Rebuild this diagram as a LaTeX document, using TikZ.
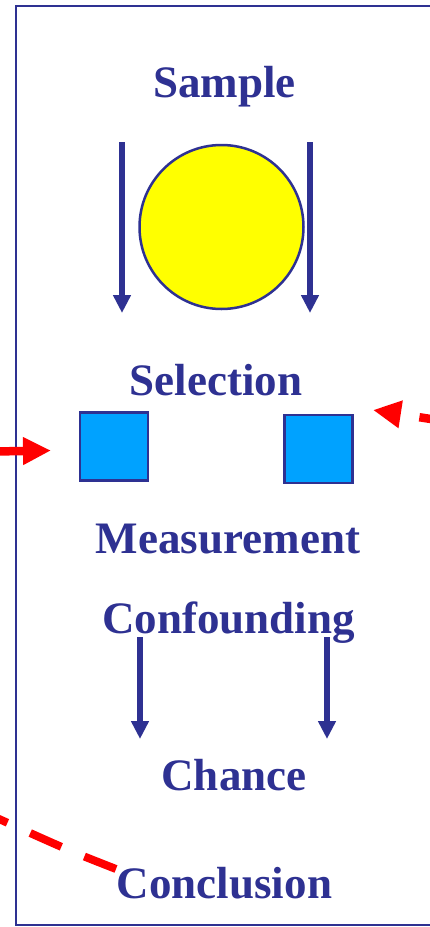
\documentclass[tikz,border=0pt]{standalone}
\usepackage{fontspec}
\setmainfont{Liberation Serif}
\usetikzlibrary{arrows.meta}
\definecolor{dblue}{RGB}{46,49,146}
\definecolor{sqblue}{RGB}{0,162,255}
\definecolor{cyellow}{RGB}{255,255,0}
\tikzset{
  lbl/.style={anchor=base, inner sep=0pt, text=dblue, font=\fontsize{45}{50}\selectfont\bfseries},
  barrow/.style={draw=dblue, line width=5.5pt, -{Triangle[length=18pt,width=17pt]}},
  sqbox/.style={draw=dblue, fill=sqblue, line width=2.5pt, minimum size=68pt, inner sep=0pt},
  rarrow/.style={draw=red, line width=8.5pt, -{Triangle[length=28pt,width=26pt]}},
  rdash/.style={draw=red, line width=8pt, dash pattern=on 34pt off 25pt}
}
\begin{document}
\begin{tikzpicture}[x=1pt,y=-1pt]
\useasboundingbox (0,0) rectangle (430,927);
\clip (0,0) rectangle (430,927);
\fill[white] (0,0) rectangle (430,927);
% frame
\draw[dblue, line width=2.2pt] (16,6) rectangle (450,925);
% texts
\node[lbl] (sample) at (224.5,97) {Sample};
\node[lbl] (selection) at (216,395) {Selection};
\node[lbl] (measurement) at (228,553) {Measurement};
\node[lbl] (confounding) at (228.5,633) {Confounding};
\node[lbl] (chance) at (234,790) {Chance};
\node[lbl] (conclusion) at (224.5,898) {Conclusion};
% circle
\node[circle, draw=dblue, fill=cyellow, line width=2.5pt, minimum size=164pt, inner sep=0pt] (circ) at (221.5,227) {};
% squares
\node[sqbox] (sqL) at (114,446.5) {};
\node[sqbox] (sqR) at (318.5,449) {};
% blue arrows
\coordinate (a1s) at (122,142); \coordinate (a1e) at (122,313);
\coordinate (a2s) at (310,142); \coordinate (a2e) at (310,313);
\coordinate (a3s) at (140,637); \coordinate (a3e) at (140,739);
\coordinate (a4s) at (327,637); \coordinate (a4e) at (327,739);
\draw[barrow] (a1s) -- (a1e);
\draw[barrow] (a2s) -- (a2e);
\draw[barrow] (a3s) -- (a3e);
\draw[barrow] (a4s) -- (a4e);
% red arrows
\coordinate (rL0) at (-5,451.5); \coordinate (rL1) at (51,450.5);
\draw[rarrow] (rL0) -- (rL1);
\coordinate (rR0) at (450,422); \coordinate (rR1) at (373,410);
\draw[rarrow, dash pattern=on 31pt off 25pt] (rR0) -- (rR1);
% dashed line to conclusion
\coordinate (dc0) at (116,869); \coordinate (dc1) at (-12,814);
\draw[rdash] (dc0) .. controls (70,851) .. (dc1);
\end{tikzpicture}
\end{document}
